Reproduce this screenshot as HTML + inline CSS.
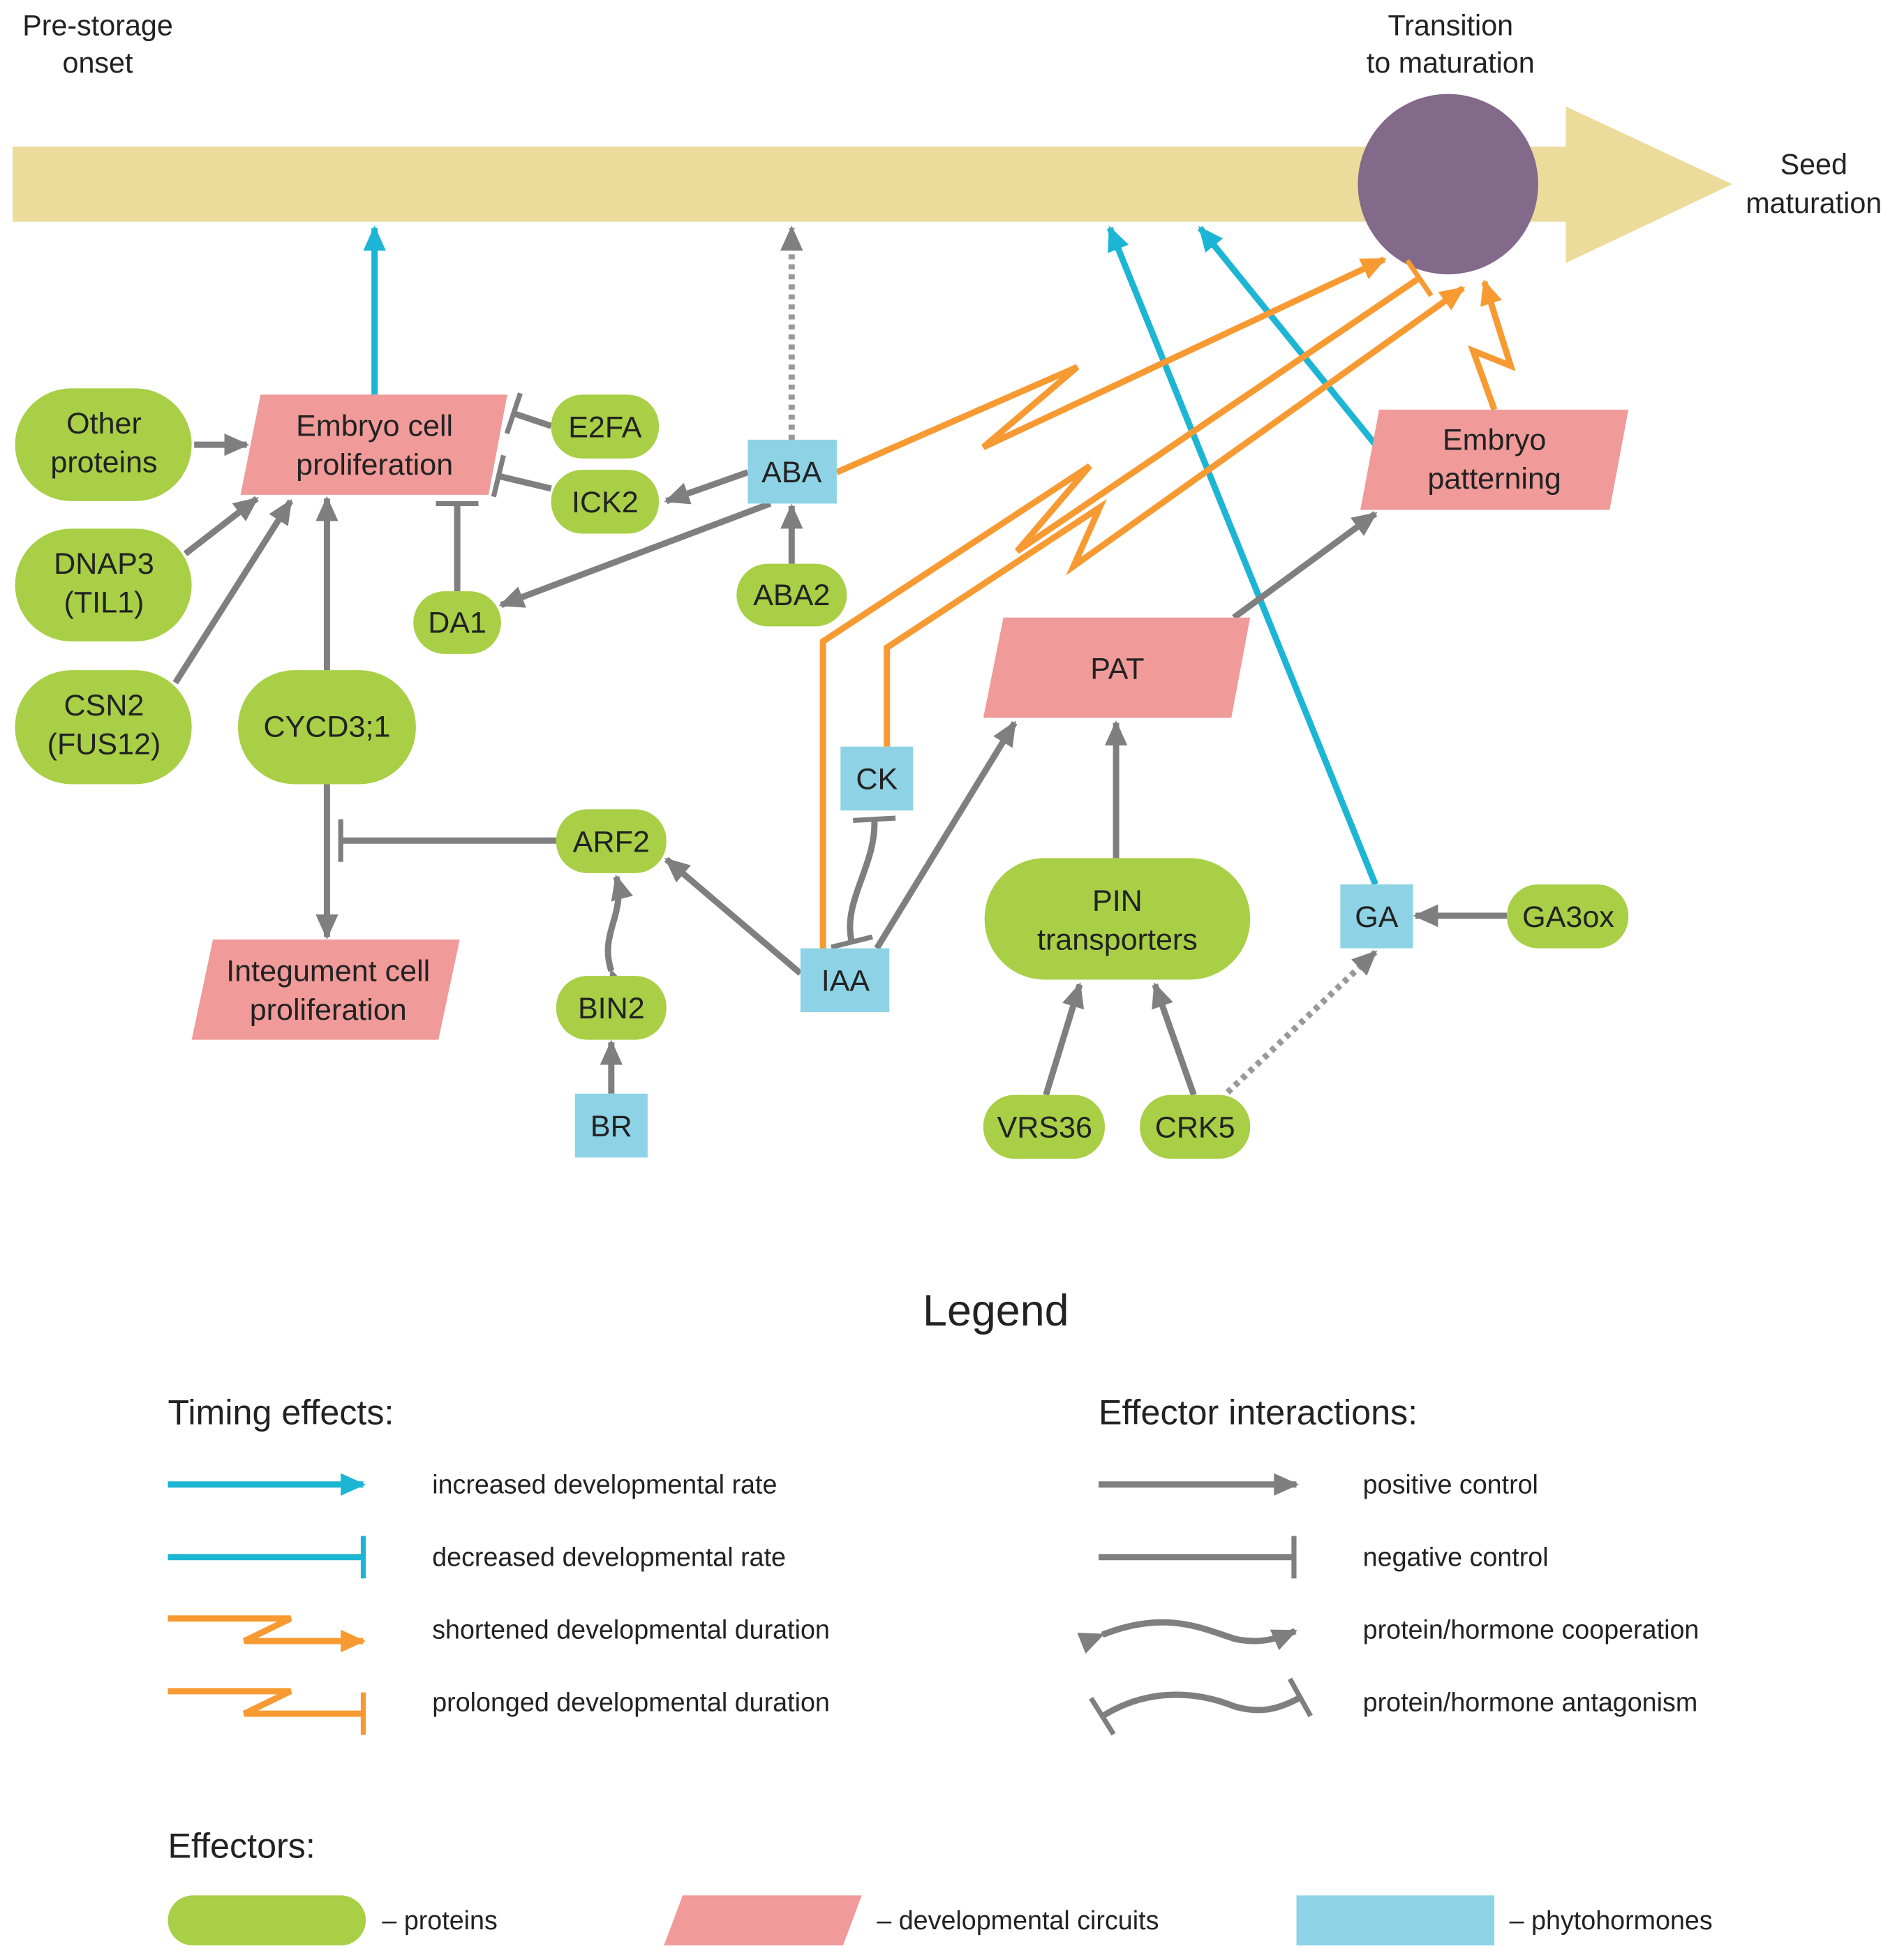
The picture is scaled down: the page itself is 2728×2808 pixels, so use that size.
<!DOCTYPE html>
<html><head><meta charset="utf-8"><style>html,body{margin:0;padding:0;background:#fff}svg{display:block}text{font-family:"Liberation Sans",sans-serif;fill:#222}</style></head>
<body>
<svg width="2728" height="2808" viewBox="0 0 1520 1564.6" xmlns="http://www.w3.org/2000/svg">
<defs>
<marker id="ag" markerUnits="userSpaceOnUse" markerWidth="22" markerHeight="20" refX="18" refY="10" orient="auto"><path d="M0,1 L20,10 L0,19 Z" fill="#7f7f7f"/></marker>
<marker id="ac" markerUnits="userSpaceOnUse" markerWidth="22" markerHeight="20" refX="18" refY="10" orient="auto"><path d="M0,1 L20,10 L0,19 Z" fill="#1cb6d4"/></marker>
<marker id="ao" markerUnits="userSpaceOnUse" markerWidth="22" markerHeight="20" refX="18" refY="10" orient="auto"><path d="M0,1 L20,10 L0,19 Z" fill="#f79a32"/></marker>
<marker id="tg" markerUnits="userSpaceOnUse" markerWidth="8" markerHeight="34" refX="4" refY="17" orient="auto"><rect x="2" y="0" width="4" height="34" fill="#7f7f7f"/></marker>
<marker id="tc" markerUnits="userSpaceOnUse" markerWidth="8" markerHeight="34" refX="4" refY="17" orient="auto"><rect x="2" y="0" width="4" height="34" fill="#1cb6d4"/></marker>
<marker id="to" markerUnits="userSpaceOnUse" markerWidth="8" markerHeight="34" refX="4" refY="17" orient="auto"><rect x="2" y="0" width="4" height="34" fill="#f79a32"/></marker>
</defs>
<!-- timeline -->
<path d="M10,117 L1250,117 L1250,85 L1383,147 L1250,210 L1250,177 L10,177 Z" fill="#ecdc9c"/>
<circle cx="1156" cy="147" r="72" fill="#836a8a"/>
<g font-size="23" text-anchor="middle">
<text x="78" y="28">Pre-storage</text><text x="78" y="58">onset</text>
<text x="1158" y="28">Transition</text><text x="1158" y="58">to maturation</text>
<text x="1448" y="139">Seed</text><text x="1448" y="170">maturation</text>
</g>
<!-- edges -->
<g fill="none" stroke-width="5">
<line x1="299" y1="315" x2="299" y2="182" stroke="#1cb6d4" marker-end="url(#ac)"/>
<line x1="632" y1="351" x2="632" y2="182" stroke="#999" stroke-dasharray="4,4" marker-end="url(#ag)"/>
<line x1="1098" y1="706" x2="886" y2="182" stroke="#1cb6d4" marker-end="url(#ac)"/>
<line x1="1098" y1="355" x2="958" y2="182" stroke="#1cb6d4" marker-end="url(#ac)"/>
<path d="M668,377 L860,293 L785,357 L1105,207" stroke="#f79a32" marker-end="url(#ao)"/>
<path d="M657,757 L657,512 L870,372 L812,440 L1133,222" stroke="#f79a32" marker-end="url(#to)"/>
<path d="M708,596 L708,517 L878,405 L857,452 L1168,230" stroke="#f79a32" marker-end="url(#ao)"/>
<path d="M1193,327 L1176,280 L1206,292 L1185,225" stroke="#f79a32" marker-end="url(#ao)"/>
<g stroke="#7f7f7f">
<line x1="155" y1="355" x2="197" y2="355" marker-end="url(#ag)"/>
<line x1="148" y1="442" x2="205" y2="398" marker-end="url(#ag)"/>
<line x1="140" y1="545" x2="232" y2="400" marker-end="url(#ag)"/>
<line x1="261" y1="535" x2="261" y2="398" marker-end="url(#ag)"/>
<line x1="261" y1="626" x2="261" y2="748" marker-end="url(#ag)"/>
<line x1="444" y1="671" x2="272" y2="671" marker-end="url(#tg)"/>
<line x1="440" y1="340" x2="410" y2="330" marker-end="url(#tg)"/>
<line x1="440" y1="390" x2="398" y2="380" marker-end="url(#tg)"/>
<line x1="365" y1="472" x2="365" y2="402" marker-end="url(#tg)"/>
<line x1="597" y1="377" x2="532" y2="400" marker-end="url(#ag)"/>
<line x1="615" y1="402" x2="400" y2="483" marker-end="url(#ag)"/>
<line x1="632" y1="450" x2="632" y2="404" marker-end="url(#ag)"/>
<line x1="639" y1="777" x2="532" y2="686" marker-end="url(#ag)"/>
<line x1="700" y1="757" x2="810" y2="577" marker-end="url(#ag)"/>
<path d="M680,752 C672,720 700,690 698,654" marker-start="url(#tg)" marker-end="url(#tg)"/>
<path d="M488,775 C478,745 500,730 492,700" marker-start="url(#ag)" marker-end="url(#ag)"/>
<line x1="488" y1="873" x2="488" y2="832" marker-end="url(#ag)"/>
<line x1="891" y1="685" x2="891" y2="577" marker-end="url(#ag)"/>
<line x1="835" y1="874" x2="862" y2="786" marker-end="url(#ag)"/>
<line x1="953" y1="874" x2="922" y2="786" marker-end="url(#ag)"/>
<line x1="980" y1="872" x2="1098" y2="760" stroke="#999" stroke-dasharray="4,4" marker-end="url(#ag)"/>
<line x1="1203" y1="731" x2="1130" y2="731" marker-end="url(#ag)"/>
<line x1="985" y1="493" x2="1098" y2="410" marker-end="url(#ag)"/>
</g>
</g>
<!-- nodes -->
<g fill="#a8cf45">
<rect x="12" y="310" width="141" height="90" rx="45"/>
<rect x="12" y="422" width="141" height="90" rx="45"/>
<rect x="12" y="535" width="141" height="91" rx="45"/>
<rect x="190" y="535" width="142" height="91" rx="45"/>
<rect x="440" y="315" width="86" height="51" rx="25"/>
<rect x="440" y="375" width="86" height="51" rx="25"/>
<rect x="330" y="472" width="70" height="50" rx="25"/>
<rect x="588" y="450" width="88" height="50" rx="25"/>
<rect x="444" y="646" width="88" height="51" rx="25"/>
<rect x="444" y="779" width="88" height="51" rx="25"/>
<rect x="786" y="685" width="212" height="97" rx="48"/>
<rect x="785" y="874" width="97" height="51" rx="25"/>
<rect x="910" y="874" width="88" height="51" rx="25"/>
<rect x="1203" y="706" width="97" height="51" rx="25"/>
</g>
<g fill="#8dd3e5">
<rect x="597" y="351" width="71" height="51"/>
<rect x="671" y="596" width="58" height="51"/>
<rect x="639" y="757" width="71" height="51"/>
<rect x="459" y="873" width="58" height="51"/>
<rect x="1070" y="706" width="58" height="51"/>
</g>
<g fill="#f09a9a">
<path d="M208,315 L405,315 L390,395 L192,395 Z"/>
<path d="M1101,327 L1300,327 L1285,407 L1086,407 Z"/>
<path d="M801,493 L998,493 L983,573 L785,573 Z"/>
<path d="M170,750 L367,750 L350,830 L153,830 Z"/>
</g>
<g font-size="24" text-anchor="middle">
<text x="83" y="346">Other</text><text x="83" y="377">proteins</text>
<text x="83" y="458">DNAP3</text><text x="83" y="489">(TIL1)</text>
<text x="83" y="571">CSN2</text><text x="83" y="602">(FUS12)</text>
<text x="261" y="588">CYCD3;1</text>
<text x="483" y="349">E2FA</text><text x="483" y="409">ICK2</text>
<text x="365" y="505">DA1</text><text x="632" y="483">ABA2</text>
<text x="488" y="680">ARF2</text><text x="488" y="813">BIN2</text>
<text x="892" y="727">PIN</text><text x="892" y="758">transporters</text>
<text x="834" y="908">VRS36</text><text x="954" y="908">CRK5</text>
<text x="1252" y="740">GA3ox</text>
<text x="632" y="385">ABA</text><text x="700" y="630">CK</text>
<text x="675" y="791">IAA</text><text x="488" y="907">BR</text><text x="1099" y="740">GA</text>
<text x="299" y="348">Embryo cell</text><text x="299" y="379">proliferation</text>
<text x="1193" y="359">Embryo</text><text x="1193" y="390">patterning</text>
<text x="892" y="542">PAT</text>
<text x="262" y="783">Integument cell</text><text x="262" y="814">proliferation</text>
</g>
<!-- legend -->
<text x="795" y="1058" font-size="35" text-anchor="middle">Legend</text>
<text x="134" y="1137" font-size="28">Timing effects:</text>
<text x="877" y="1137" font-size="28">Effector interactions:</text>
<g fill="none" stroke-width="5">
<line x1="134" y1="1185" x2="290" y2="1185" stroke="#1cb6d4" marker-end="url(#ac)"/>
<line x1="134" y1="1243" x2="290" y2="1243" stroke="#1cb6d4" marker-end="url(#tc)"/>
<path d="M134,1292 L232,1292 L195,1310 L290,1310" stroke="#f79a32" marker-end="url(#ao)"/>
<path d="M134,1350 L232,1350 L195,1368 L290,1368" stroke="#f79a32" marker-end="url(#to)"/>
<g stroke="#7f7f7f">
<line x1="877" y1="1185" x2="1035" y2="1185" marker-end="url(#ag)"/>
<line x1="877" y1="1243" x2="1033" y2="1243" marker-end="url(#tg)"/>
<path d="M880,1305 C930,1285 960,1300 985,1308 C1005,1313 1020,1308 1034,1302" marker-start="url(#ag)" marker-end="url(#ag)"/>
<path d="M880,1370 C920,1345 960,1352 985,1362 C1005,1368 1020,1365 1038,1355" marker-start="url(#tg)" marker-end="url(#tg)"/>
</g>
</g>
<g font-size="21">
<text x="345" y="1192">increased developmental rate</text>
<text x="345" y="1250">decreased developmental rate</text>
<text x="345" y="1308">shortened developmental duration</text>
<text x="345" y="1366">prolonged developmental duration</text>
<text x="1088" y="1192">positive control</text>
<text x="1088" y="1250">negative control</text>
<text x="1088" y="1308">protein/hormone cooperation</text>
<text x="1088" y="1366">protein/hormone antagonism</text>
</g>
<text x="134" y="1483" font-size="28">Effectors:</text>
<rect x="134" y="1513" width="158" height="40" rx="20" fill="#a8cf45"/>
<path d="M545,1513 L688,1513 L673,1553 L530,1553 Z" fill="#f09a9a"/>
<rect x="1035" y="1513" width="158" height="40" fill="#8dd3e5"/>
<g font-size="21">
<text x="305" y="1540">– proteins</text>
<text x="700" y="1540">– developmental circuits</text>
<text x="1205" y="1540">– phytohormones</text>
</g>
</svg>
</body></html>
